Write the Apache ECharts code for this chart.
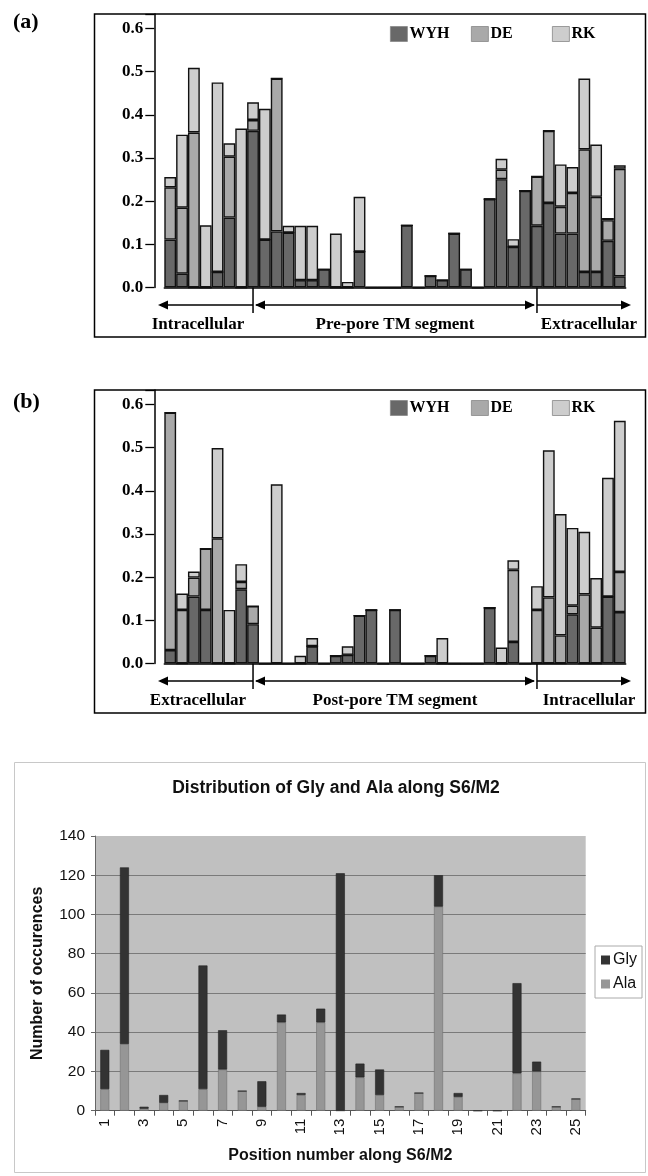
<!DOCTYPE html>
<html><head><meta charset="utf-8">
<script src="https://cdn.jsdelivr.net/npm/echarts@6/dist/echarts.min.js"></script>
<style>html,body{margin:0;padding:0;background:#fff}#c{width:648px;height:1176px}</style>
</head><body><div id="c"></div>
<script>
// ---------- data ----------
const positionsAB = [1,2,3,4,5,6,7,8,9,10,11,12,13,14,15,16,17,18,19,20,21,22,23,24,25,26,27,28,29,30,31,32,33,34,35,36,37,38,39];
// panel (a)
const wyhA = [0.111,0.032,0,0,0.036,0.162,0,0.363,0.111,0.130,0.127,0.017,0.017,0.042,0,0,0.083,0,0,0,0.144,0,0.027,0.017,0.125,0.042,0,0.205,0.251,0.094,0.224,0.143,0.196,0.125,0.125,0.036,0.036,0.108,0.026];
const deA  = [0.121,0.153,0.359,0,0,0.141,0,0.025,0,0.354,0,0,0,0,0,0,0,0,0,0,0,0,0,0,0,0,0,0,0.022,0,0,0.114,0.167,0.062,0.094,0.284,0.174,0.048,0.249];
const rkA  = [0.024,0.169,0.150,0.144,0.439,0.031,0.368,0.041,0.303,0,0.016,0.126,0.126,0,0.125,0.013,0.127,0,0,0,0,0,0,0,0,0,0,0,0.025,0.018,0,0,0,0.098,0.060,0.164,0.121,0.005,0.008];
// panel (b)
const wyhB = [0.031,0,0.155,0.124,0,0,0.172,0.091,0,0,0,0,0.040,0,0.018,0.020,0.111,0.124,0,0.124,0,0,0.018,0,0,0,0,0.129,0,0.050,0,0,0,0,0.114,0,0,0.155,0.119];
const deB  = [0.550,0.124,0.044,0.142,0.290,0,0.017,0.042,0,0,0,0,0,0,0,0,0,0,0,0,0,0,0,0,0,0,0,0,0,0.167,0,0.124,0.153,0.065,0.020,0.160,0.083,0,0.093];
const rkB  = [0,0.038,0.014,0,0.209,0.124,0.041,0,0,0.415,0,0.018,0.019,0,0,0.020,0,0,0,0,0,0,0,0.059,0,0,0,0,0.037,0.022,0,0.055,0.341,0.281,0.180,0.145,0.115,0.275,0.350];
// panel (c)
const positionsC = ['1','2','3','4','5','6','7','8','9','10','11','12','13','14','15','16','17','18','19','20','21','22','23','24','25'];
const glyC = [20,90,1,4,0,63,20,0,13,4,1,7,121,7,13,0,0,16,2,0,0,46,5,0,0];
const alaC = [11,34,1,4,5,11,21,10,2,45,8,45,0,17,8,2,9,104,7,0,0,19,20,2,6];
const regionsA = ['Intracellular','Pre-pore TM segment','Extracellular'];
const regionsB = ['Extracellular','Post-pore TM segment','Intracellular'];

// ---------- layout ----------
const SERIF = '"Liberation Serif","Times New Roman",serif';
const SANS = '"Liberation Sans",Arial,sans-serif';
const GL = 164.3, GW = 461.4, GH = 273.5;
const TOP_A = 14, TOP_B = 390;
const BW = GW / positionsAB.length;
const D1 = GL + 7.5 * BW, D2 = GL + 31.5 * BW;
const COL = {WYH:'#686868', DE:'#a9a9a9', RK:'#cdcdcd'};

const chart = echarts.init(document.getElementById('c'), null, {renderer:'canvas'});

function yAxisAB(gi){
  return {
    type:'value', gridIndex:gi, min:0, max:0.6335, interval:0.1, offset:10,
    axisLine:{show:true, lineStyle:{color:'#000', width:1.5}},
    axisTick:{show:true, length:9, lineStyle:{color:'#000', width:1.3}},
    splitLine:{show:false},
    axisLabel:{margin:11, color:'#000', fontFamily:SERIF, fontWeight:'bold', fontSize:17,
      formatter:v => Math.abs(v*10 - Math.round(v*10)) < 1e-6 ? v.toFixed(1) : ''}
  };
}
function xAxisAB(gi){
  return {type:'category', gridIndex:gi, data:positionsAB,
    axisLine:{show:true, lineStyle:{color:'#000', width:1.5}},
    axisTick:{show:false}, axisLabel:{show:false}, splitLine:{show:false}};
}
function barSeries(name, data, gi, stack){
  return {type:'bar', name, data, xAxisIndex:gi, yAxisIndex:gi, stack,
    barCategoryGap:'0%', barGap:'0%',
    itemStyle:{color:COL[name], borderColor:'#111', borderWidth:1.4}};
}
function legendAB(name, left, top){
  return {data:[name], left, top, padding:0, itemWidth:17, itemHeight:15, itemGap:0,
    icon:'rect', itemStyle:{borderColor:'#888', borderWidth:0.8},
    textStyle:{fontFamily:SERIF, fontWeight:'bold', fontSize:16, color:'#000', padding:[0,0,0,-3]}};
}
function arrows(baseY, ay, ly, labels){
  const L = 158, R = 631, s = {stroke:'#000', lineWidth:1.5};
  const tri = (pts) => ({type:'polygon', shape:{points:pts}, style:{fill:'#000'}});
  const txt = (t, x) => ({type:'text', x, y:ly, style:{text:t, font:'bold 17px '+SERIF, fill:'#000', textAlign:'center', textVerticalAlign:'middle'}});
  return [
    {type:'line', shape:{x1:D1, y1:baseY, x2:D1, y2:ay+8}, style:s},
    {type:'line', shape:{x1:D2, y1:baseY, x2:D2, y2:ay+8}, style:s},
    {type:'line', shape:{x1:L+2, y1:ay, x2:D1, y2:ay}, style:s},
    {type:'line', shape:{x1:D1+3, y1:ay, x2:D2-3, y2:ay}, style:s},
    {type:'line', shape:{x1:D2, y1:ay, x2:R-2, y2:ay}, style:s},
    tri([[L,ay],[L+10,ay-4.5],[L+10,ay+4.5]]),
    tri([[D1+2,ay],[D1+12,ay-4.5],[D1+12,ay+4.5]]),
    tri([[D2-2,ay],[D2-12,ay-4.5],[D2-12,ay+4.5]]),
    tri([[R,ay],[R-10,ay-4.5],[R-10,ay+4.5]]),
    txt(labels[0], 198), txt(labels[1], (D1+D2)/2), txt(labels[2], 589)
  ];
}

const option = {
  animation:false,
  backgroundColor:'#fff',
  title:{text:'Distribution of Gly and Ala along S6/M2', left:331, top:774, textAlign:'center',
    textStyle:{fontFamily:SANS, fontWeight:'bold', fontSize:17.5, color:'#111'}},
  grid:[
    {left:GL, top:TOP_A, width:GW, height:GH},
    {left:GL, top:TOP_B, width:GW, height:GH},
    {left:95, top:836, width:490.7, height:274.7, show:true, backgroundColor:'#c0c0c0', borderWidth:0}
  ],
  xAxis:[xAxisAB(0), xAxisAB(1),
    {type:'category', gridIndex:2, data:positionsC,
     name:'Position number along S6/M2', nameLocation:'middle', nameGap:37,
     nameTextStyle:{fontFamily:SANS, fontWeight:'bold', fontSize:16, color:'#111'},
     axisLine:{show:true, lineStyle:{color:'#555', width:1}},
     axisTick:{show:true, interval:0, length:5, lineStyle:{color:'#555'}},
     axisLabel:{interval:1, rotate:90, margin:8, fontFamily:SANS, fontSize:15, color:'#111'}}
  ],
  yAxis:[yAxisAB(0), yAxisAB(1),
    {type:'value', gridIndex:2, min:0, max:140, interval:20,
     name:'Number of occurences', nameLocation:'middle', nameGap:49, nameRotate:90,
     nameTextStyle:{fontFamily:SANS, fontWeight:'bold', fontSize:16, color:'#111'},
     axisLine:{show:true, lineStyle:{color:'#666'}},
     axisTick:{show:true, length:4, lineStyle:{color:'#666'}},
     splitLine:{show:true, showMaxLine:false, lineStyle:{color:'#7a7a7a', width:1}},
     axisLabel:{margin:10, fontFamily:SANS, fontSize:15.5, color:'#111'}}
  ],
  legend:[
    legendAB('WYH', 390, 26), legendAB('DE', 471, 26), legendAB('RK', 552, 26),
    legendAB('WYH', 390, 400), legendAB('DE', 471, 400), legendAB('RK', 552, 400),
    {data:['Gly','Ala'], orient:'vertical', left:595, top:946, padding:[6,5,6,6],
     itemWidth:9, itemHeight:9, itemGap:8, icon:'rect', itemStyle:{borderWidth:0},
     borderColor:'#aaa', borderWidth:1, backgroundColor:'#fff',
     textStyle:{fontFamily:SANS, fontSize:16, color:'#111', padding:[0,0,0,-2]}}
  ],
  series:[
    barSeries('WYH', wyhA, 0, 'a'), barSeries('DE', deA, 0, 'a'), barSeries('RK', rkA, 0, 'a'),
    barSeries('WYH', wyhB, 1, 'b'), barSeries('DE', deB, 1, 'b'), barSeries('RK', rkB, 1, 'b'),
    {type:'bar', name:'Ala', data:alaC, xAxisIndex:2, yAxisIndex:2, stack:'c', barWidth:9,
     itemStyle:{color:'#969696', borderColor:'#707070', borderWidth:0.6}},
    {type:'bar', name:'Gly', data:glyC, xAxisIndex:2, yAxisIndex:2, stack:'c', barWidth:9,
     itemStyle:{color:'#333333', borderColor:'#222', borderWidth:0.6}}
  ],
  graphic:[].concat(
    [
      {type:'rect', shape:{x:94.5, y:TOP_A, width:551, height:323}, style:{fill:'none', stroke:'#000', lineWidth:1.5}},
      {type:'rect', shape:{x:94.5, y:TOP_B, width:551, height:323}, style:{fill:'none', stroke:'#000', lineWidth:1.5}},
      {type:'rect', shape:{x:14.5, y:762.5, width:631, height:410}, style:{fill:'none', stroke:'#c8c8c8', lineWidth:1}},
      {type:'text', x:13, y:22, style:{text:'(a)', font:'bold 22px '+SERIF, fill:'#000', textVerticalAlign:'middle'}},
      {type:'text', x:13, y:402, style:{text:'(b)', font:'bold 22px '+SERIF, fill:'#000', textVerticalAlign:'middle'}}
    ],
    arrows(TOP_A+GH, 305, 325, regionsA),
    arrows(TOP_B+GH, 681, 701, regionsB)
  )
};
chart.setOption(option);
</script></body></html>
